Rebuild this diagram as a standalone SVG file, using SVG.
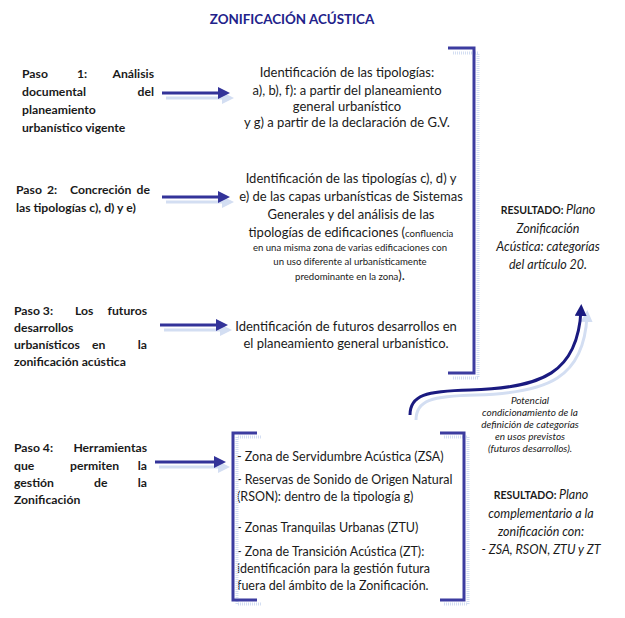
<svg xmlns="http://www.w3.org/2000/svg" width="625" height="618" viewBox="0 0 625 618">
<defs>
<style>
.t{font-family:Lato,"Open Sans","Liberation Sans",sans-serif;fill:#1a1a1a}
.b{font-weight:bold;font-size:12.2px}
.m{font-size:13px}
.bx{font-size:12.5px}
.s{font-size:9.6px}
.it{font-style:italic}
.ttl{font-family:Lato,"Liberation Sans",sans-serif;font-weight:bold;font-size:13.4px;fill:#22228a}
.ar{stroke:#333399;stroke-width:3;fill:none}
.sh{stroke:#d3def2;stroke-width:3;fill:none}
.br{stroke:#3c3ca0;stroke-width:3;fill:none}
.brs{stroke:#d3def2;stroke-width:3;fill:none;stroke-dasharray:1 1}
</style>
<marker id="ah" markerWidth="4" markerHeight="4" refX="2" refY="2" orient="auto" markerUnits="strokeWidth"><path d="M0,0 L4,2 L0,4 z" fill="#333399"/></marker>
<marker id="ahs" markerWidth="4" markerHeight="4" refX="2" refY="2" orient="auto" markerUnits="strokeWidth"><path d="M0,0 L4,2 L0,4 z" fill="#d3def2"/></marker>
<marker id="ahn" markerWidth="4" markerHeight="4" refX="2" refY="2" orient="auto" markerUnits="strokeWidth"><path d="M0,0 L4,2 L0,4 z" fill="#1a1a80"/></marker>
</defs>
<rect width="625" height="618" fill="#fff"/>
<text class="ttl" x="292" y="24" text-anchor="middle">ZONIFICACIÓN ACÚSTICA</text>

<g id="paso1" class="t b">
<text x="22" y="78">Paso</text><text x="77" y="78">1:</text><text x="154" y="78" text-anchor="end">Análisis</text>
<text x="22" y="96">documental</text><text x="154" y="96" text-anchor="end">del</text>
<text x="22" y="114">planeamiento</text>
<text x="22" y="132">urbanístico vigente</text>
</g>
<g id="paso2" class="t b">
<text x="16" y="194">Paso</text><text x="47" y="194">2:</text><text x="70" y="194">Concreción</text><text x="150" y="194" text-anchor="end">de</text>
<text x="16" y="212">las tipologías c), d) y e)</text>
</g>
<g id="paso3" class="t b">
<text x="14" y="315">Paso 3:</text><text x="75" y="315">Los</text><text x="147" y="315" text-anchor="end">futuros</text>
<text x="14" y="332">desarrollos</text>
<text x="14" y="349">urbanísticos</text><text x="92" y="349">en</text><text x="147" y="349" text-anchor="end">la</text>
<text x="14" y="366">zonificación acústica</text>
</g>
<g id="paso4" class="t b">
<text x="14" y="452">Paso 4:</text><text x="147" y="452" text-anchor="end">Herramientas</text>
<text x="14" y="470">que</text><text x="70" y="470">permiten</text><text x="147" y="470" text-anchor="end">la</text>
<text x="14" y="487">gestión</text><text x="94" y="487">de</text><text x="147" y="487" text-anchor="end">la</text>
<text x="14" y="504">Zonificación</text>
</g>

<g id="res1" class="t m" text-anchor="middle">
<text x="347" y="77">Identificación de las tipologías:</text>
<text x="347" y="95">a), b), f): a partir del planeamiento</text>
<text x="347" y="111">general urbanístico</text>
<text x="347" y="127">y g) a partir de la declaración de G.V.</text>
</g>
<g id="res2" class="t m" text-anchor="middle">
<text x="351" y="183">Identificación de las tipologías c), d) y</text>
<text x="351" y="201">e) de las capas urbanísticas de Sistemas</text>
<text x="351" y="219">Generales y del análisis de las</text>
<text x="351" y="237">tipologías de edificaciones (<tspan class="s">confluencia</tspan></text>
<text class="s" x="350" y="251">en una misma zona de varias edificaciones con</text>
<text class="s" x="350" y="265">un uso diferente al urbanísticamente</text>
<text x="350" y="280"><tspan class="s">predominante en la zona</tspan>).</text>
</g>
<g id="res3" class="t m" text-anchor="middle">
<text x="346" y="331">Identificación de futuros desarrollos en</text>
<text x="346" y="348">el planeamiento general urbanístico.</text>
</g>

<g id="box4" class="t bx">
<text x="237" y="461">- Zona de Servidumbre Acústica (ZSA)</text>
<text x="237" y="484">- Reservas de Sonido de Origen Natural</text>
<text x="237" y="501">(RSON): dentro de la tipología g)</text>
<text x="237" y="532">- Zonas Tranquilas Urbanas (ZTU)</text>
<text x="237" y="556">- Zona de Transición Acústica (ZT):</text>
<text x="237" y="573">identificación para la gestión futura</text>
<text x="237" y="590">fuera del ámbito de la Zonificación.</text>
</g>

<g id="resultado1" class="t" text-anchor="middle">
<text x="548" y="214"><tspan font-weight="bold" font-size="10.5px">RESULTADO: </tspan><tspan class="it" font-size="12.5px">Plano</tspan></text>
<text class="it" font-size="12.5px" x="548" y="233">Zonificación</text>
<text class="it" font-size="12.5px" x="548" y="251">Acústica: categorías</text>
<text class="it" font-size="12.5px" x="548" y="269">del artículo 20.</text>
</g>
<g id="nota" class="t it" font-size="10px" text-anchor="middle">
<text x="530" y="404">Potencial</text>
<text x="530" y="416">condicionamiento de la</text>
<text x="530" y="428">definición de categorías</text>
<text x="530" y="440">en usos previstos</text>
<text x="530" y="452">(futuros desarrollos).</text>
</g>
<g id="resultado2" class="t" text-anchor="middle">
<text x="541" y="499"><tspan font-weight="bold" font-size="10.5px">RESULTADO: </tspan><tspan class="it" font-size="12.5px">Plano</tspan></text>
<text class="it" font-size="12.5px" x="541" y="518">complementario a la</text>
<text class="it" font-size="12.5px" x="541" y="536">zonificación con:</text>
<text class="it" font-size="12.5px" x="541" y="554">- ZSA, RSON, ZTU y ZT</text>
</g>

<g id="connectors">
<path class="brs" d="M453,53 H478 V378 H453"/>
<path class="br" d="M448,48 H474 V373 H448"/>
<path class="brs" d="M261,437 H237 V604 H261"/>
<path class="br" d="M257,433 H233 V600 H257"/>
<path class="brs" d="M444,437 H468 V604 H444"/>
<path class="br" d="M440,433 H464 V600 H440"/>

<line class="sh" x1="166" y1="98" x2="228" y2="98" marker-end="url(#ahs)"/>
<line class="ar" x1="162" y1="93" x2="224" y2="93" marker-end="url(#ah)"/>
<line class="sh" x1="166" y1="202" x2="228" y2="202" marker-end="url(#ahs)"/>
<line class="ar" x1="162" y1="197" x2="224" y2="197" marker-end="url(#ah)"/>
<line class="sh" x1="164" y1="330" x2="226" y2="330" marker-end="url(#ahs)"/>
<line class="ar" x1="160" y1="325" x2="222" y2="325" marker-end="url(#ah)"/>
<line class="sh" x1="159" y1="467" x2="224" y2="467" marker-end="url(#ahs)"/>
<line class="ar" x1="155" y1="462" x2="220" y2="462" marker-end="url(#ah)"/>

<path class="sh" d="M416,420 C416,400 432,396 476,395 C548,393 584,378 587,316" marker-end="url(#ahs)"/>
<path d="M410,415 C410,395 426,391 470,390 C542,388 578,373 581,310" stroke="#1a1a80" stroke-width="3" fill="none" marker-end="url(#ahn)"/>
</g>
</svg>
